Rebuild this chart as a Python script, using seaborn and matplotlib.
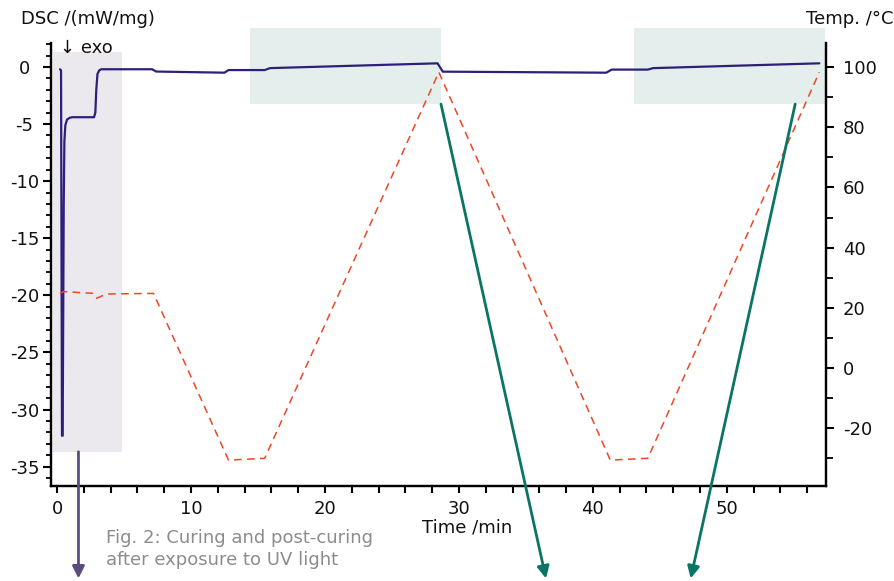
import numpy as np
import pandas as pd
import seaborn as sns
import matplotlib.pyplot as plt
from matplotlib.patches import Rectangle
from matplotlib.ticker import MultipleLocator

# DSC signal (time in min, DSC in mW/mg)
dsc_time = [0.22, 0.30, 0.37, 0.42, 0.50, 0.55, 0.62, 0.75, 0.95, 1.12, 2.76, 2.86, 2.93,
            3.02, 3.15, 3.30, 7.10, 7.40, 12.5, 12.8, 15.5, 15.9, 28.4, 28.8, 41.0, 41.4,
            44.1, 44.5, 56.9]
dsc_signal = [-0.2, -0.3, -32.3, -32.3, -12.0, -6.5, -5.1, -4.6, -4.45, -4.4, -4.4, -4.0, -2.0,
              -0.6, -0.3, -0.2, -0.2, -0.4, -0.5, -0.27, -0.27, -0.1, 0.32, -0.41, -0.5, -0.23,
              -0.23, -0.1, 0.32]

# temperature programme (time in min, temperature in degC)
temp_time = [0.22, 0.50, 2.70, 2.96, 3.70, 7.20, 12.8, 15.5, 28.5, 41.3, 44.1, 56.9]
temp_value = [24.8, 25.4, 24.8, 23.2, 24.6, 24.8, -30.6, -30.0, 98.3, -30.6, -30.0, 98.3]

# highlighted regions: (t_start, t_end, dsc_low, dsc_high)
uv_region = (-0.3, 4.85, -33.7, 1.3)
post_regions = [(14.4, 28.66, -3.25, 3.4), (43.1, 57.3, -3.25, 3.4)]

# arrows (start / end in time, DSC units)
arrows = [((1.6, -33.7), (1.6, -44.8), "#5a4d7d"),
          ((28.66, -3.25), (36.5, -44.8), "#0b7565"),
          ((55.1, -3.25), (47.3, -44.8), "#0b7565")]

sns.set_style("ticks")
plt.rcParams["font.family"] = ["DejaVu Sans"]
plt.rcParams["axes.unicode_minus"] = False

fig = plt.figure(figsize=(8.94, 5.81), dpi=100)
ax = fig.add_axes([51 / 894, 95 / 581, 775 / 894, 443 / 581])
ax2 = ax.twinx()

# shaded areas
x0, x1, y0, y1 = uv_region
ax.add_patch(Rectangle((x0, y0), x1 - x0, y1 - y0, color="#ebe8ee", zorder=0, lw=0))
for x0, x1, y0, y1 in post_regions:
    ax.add_patch(Rectangle((x0, y0), x1 - x0, y1 - y0, color="#e4efed", zorder=0, lw=0,
                           clip_on=False))

df_dsc = pd.DataFrame({"time": dsc_time, "dsc": dsc_signal})
df_temp = pd.DataFrame({"time": temp_time, "temp": temp_value})

sns.lineplot(data=df_dsc, x="time", y="dsc", ax=ax, color="#2e1f7a", lw=1.6,
             estimator=None, sort=False)
sns.lineplot(data=df_temp, x="time", y="temp", ax=ax2, color="#ee4726", lw=1.1,
             linestyle=(0, (5, 3.5)), estimator=None, sort=False)

ax.set_xlim(-0.45, 57.4)
ax.set_ylim(-36.7, 2.1)
ax2.set_ylim(-39.2, 108)

ax.xaxis.set_major_locator(MultipleLocator(10))
ax.xaxis.set_minor_locator(MultipleLocator(2))
ax.yaxis.set_major_locator(MultipleLocator(5))
ax.yaxis.set_minor_locator(MultipleLocator(1))
ax2.yaxis.set_major_locator(MultipleLocator(20))
ax2.yaxis.set_minor_locator(MultipleLocator(10))

for a in (ax, ax2):
    a.spines["top"].set_visible(False)
    for s in a.spines.values():
        s.set_linewidth(1.6)
        s.set_color("black")
    a.set_xlabel("")
    a.set_ylabel("")

ax.tick_params(axis="y", which="major", length=6, width=1.5, labelsize=13, pad=13)
ax.tick_params(axis="y", which="minor", length=3.5, width=1.3)
ax.tick_params(axis="x", which="both", length=5, width=1.5, labelsize=13, pad=5)
ax2.tick_params(axis="y", which="major", length=6, width=1.5, labelsize=13, pad=6)
ax2.tick_params(axis="y", which="minor", length=5, width=1.3)
for a in (ax, ax2):
    a.tick_params(which="both", color="black", labelcolor="#111111")
for lbl in ax.get_yticklabels():
    lbl.set_horizontalalignment("center")

for start, end, col in arrows:
    ax2.annotate("", xy=end, xytext=start, xycoords=ax.transData, textcoords=ax.transData,
                 annotation_clip=False,
                 arrowprops=dict(arrowstyle="-|>", color=col, lw=2, mutation_scale=18,
                                 shrinkA=0, shrinkB=0))

fig.text(21 / 894, 1 - 19 / 581, "DSC /(mW/mg)", fontsize=13, va="center", ha="left",
         color="#111111")
fig.text(60 / 894, 1 - 48 / 581, "↓ exo", fontsize=13, va="center", ha="left", color="#111111")
fig.text(1.0, 1 - 19 / 581, "Temp. /°C", fontsize=13, va="center", ha="right", color="#111111")
fig.text(467 / 894, 1 - 528 / 581, "Time /min", fontsize=13, va="center", ha="center",
         color="#111111")
fig.text(106 / 894, 1 - 549 / 581, "Fig. 2: Curing and post-curing\nafter exposure to UV light",
         fontsize=13, va="center", ha="left", color="#8c8c8c", linespacing=1.25)

fig.savefig("out.png", dpi=100)
